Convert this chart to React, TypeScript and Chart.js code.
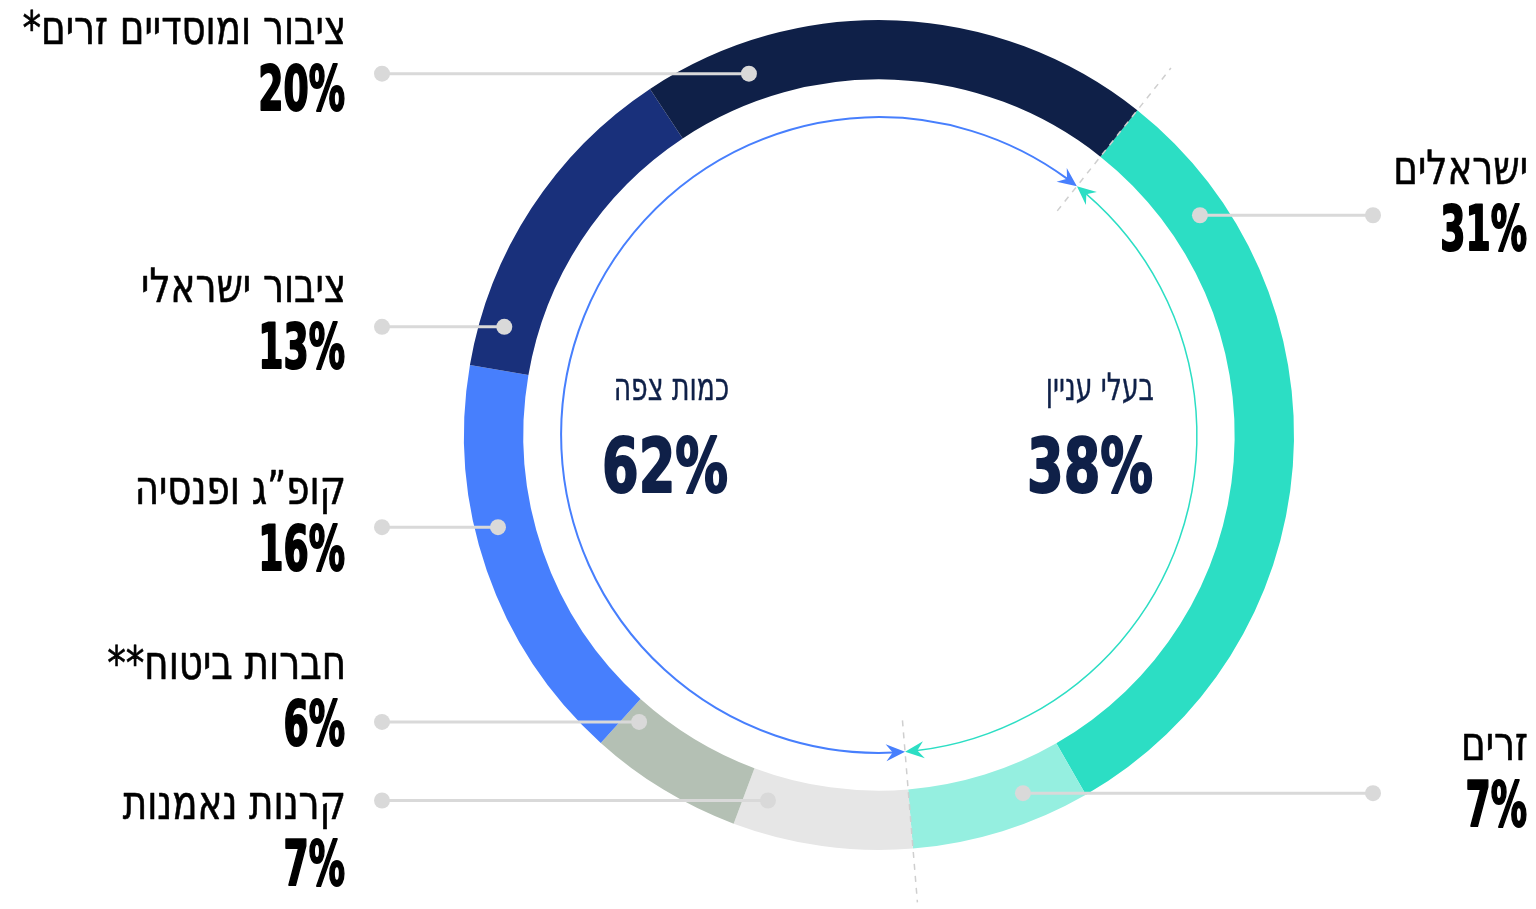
import React, { useEffect, useRef } from "react";
import { Chart, registerables } from "chart.js";

Chart.register(...registerables);

// ---- data ----
const categories = [
  "ישראלים",
  "זרים",
  "קרנות נאמנות",
  "חברות ביטוח**",
  "קופ”ג ופנסיה",
  "ציבור ישראלי",
  "ציבור ומוסדיים זרים*",
];
const shares = [31, 7, 7, 6, 16, 13, 20];
const percentLabels = ["31%", "7%", "7%", "6%", "16%", "13%", "20%"];
const groupNames = ["בעלי עניין", "כמות צפה"];
const groupLabels = ["38%", "62%"];
const groupSizes = [2, 5];

// ---- styles / layout ----
const colors = ["#2cdec4", "#95efe0", "#e6e6e6", "#b4c0b4", "#477ffd", "#19307b", "#0f2048"];
const groupColors = ["#2cdec4", "#477ffd"];
const NAVY = "#0f2048";
const LEADER = "#d9d9d9";
const FONT = "'DejaVu Sans Condensed', 'DejaVu Sans', sans-serif";

// dot: angle in degrees clockwise from 12 o'clock, radius in px from centre; text baselines
const labelLayout = [
  { angle: 55.6, radius: 389, side: "right", nameY: 184, pctY: 250 },
  { angle: 158.1, radius: 386, side: "right", nameY: 760, pctY: 826 },
  { angle: -163.1, radius: 382, side: "left", nameY: 819, pctY: 885 },
  { angle: -140.1, radius: 374, side: "left", nameY: 679, pctY: 745 },
  { angle: -103.6, radius: 392, side: "left", nameY: 504, pctY: 570 },
  { angle: -73.9, radius: 390, side: "left", nameY: 302, pctY: 368 },
  { angle: -19.8, radius: 384, side: "left", nameY: 44, pctY: 110 },
];
const sideLayout: Record<string, { textX: number; lineX: number }> = {
  left: { textX: 346, lineX: 382 },
  right: { textX: 1528, lineX: 1373 },
};
const groupLayout = [
  { x: 1154, nameY: 400, pctY: 492 },
  { x: 729, nameY: 400, pctY: 492 },
];

function drawText(
  ctx: CanvasRenderingContext2D,
  text: string,
  x: number,
  y: number,
  font: string,
  color: string,
  sx: number,
  dir: CanvasDirection,
  strokeW = 0
) {
  ctx.save();
  ctx.translate(x, y);
  ctx.scale(sx, 1);
  ctx.font = font;
  ctx.fillStyle = color;
  ctx.textAlign = "right";
  ctx.textBaseline = "alphabetic";
  ctx.direction = dir;
  ctx.fillText(text, 0, 0);
  if (strokeW > 0) {
    ctx.strokeStyle = color;
    ctx.lineWidth = strokeW;
    ctx.lineJoin = "round";
    ctx.strokeText(text, 0, 0);
  }
  ctx.restore();
}

function drawArrowHead(
  ctx: CanvasRenderingContext2D,
  tipX: number,
  tipY: number,
  fromX: number,
  fromY: number,
  color: string
) {
  const L = 19;
  const W = 8.5;
  let dx = tipX - fromX;
  let dy = tipY - fromY;
  const len = Math.hypot(dx, dy) || 1;
  dx /= len;
  dy /= len;
  const nx = -dy;
  const ny = dx;
  ctx.save();
  ctx.fillStyle = color;
  ctx.beginPath();
  ctx.moveTo(tipX, tipY);
  ctx.lineTo(tipX - L * dx + W * nx, tipY - L * dy + W * ny);
  ctx.lineTo(tipX - L * 0.65 * dx, tipY - L * 0.65 * dy);
  ctx.lineTo(tipX - L * dx - W * nx, tipY - L * dy - W * ny);
  ctx.closePath();
  ctx.fill();
  ctx.restore();
}

const overlayPlugin = {
  id: "overlay",
  afterDatasetsDraw(chart: any) {
    const ctx: CanvasRenderingContext2D = chart.ctx;
    const meta = chart.getDatasetMeta(0);
    const arcs = meta.data;
    if (!arcs.length) return;
    const cx = arcs[0].x;
    const cy = arcs[0].y;
    const outer = arcs[0].outerRadius;

    // group spans
    const spans: { start: number; end: number }[] = [];
    let idx = 0;
    groupSizes.forEach((n) => {
      spans.push({ start: arcs[idx].startAngle, end: arcs[idx + n - 1].endAngle });
      idx += n;
    });

    // dashed separators at group boundaries
    ctx.save();
    ctx.strokeStyle = "#cfcfcf";
    ctx.lineWidth = 1.5;
    ctx.setLineDash([6, 6]);
    spans.forEach((s) => {
      const a = s.start;
      ctx.beginPath();
      ctx.moveTo(cx + Math.cos(a) * outer * 0.69, cy + Math.sin(a) * outer * 0.69);
      ctx.lineTo(cx + Math.cos(a) * outer * 1.13, cy + Math.sin(a) * outer * 1.13);
      ctx.stroke();
    });
    ctx.restore();

    // inner arcs with arrow heads
    const r = outer * 0.766;
    const back = 12 / r;
    const headBack = 19 / r;
    spans.forEach((s, gi) => {
      const color = groupColors[gi];
      ctx.save();
      ctx.strokeStyle = color;
      ctx.lineWidth = gi === 0 ? 1.5 : 2;
      ctx.beginPath();
      ctx.arc(cx, cy, r, s.start + back, s.end - back);
      ctx.stroke();
      ctx.restore();
      drawArrowHead(
        ctx,
        cx + Math.cos(s.start) * r,
        cy + Math.sin(s.start) * r,
        cx + Math.cos(s.start + headBack) * r,
        cy + Math.sin(s.start + headBack) * r,
        color
      );
      drawArrowHead(
        ctx,
        cx + Math.cos(s.end) * r,
        cy + Math.sin(s.end) * r,
        cx + Math.cos(s.end - headBack) * r,
        cy + Math.sin(s.end - headBack) * r,
        color
      );
    });

    // leader lines, dots and category labels
    labelLayout.forEach((lay, i) => {
      const a = ((lay.angle - 90) * Math.PI) / 180;
      const px = cx + Math.cos(a) * lay.radius;
      const py = cy + Math.sin(a) * lay.radius;
      const side = sideLayout[lay.side];
      ctx.save();
      ctx.strokeStyle = LEADER;
      ctx.fillStyle = LEADER;
      ctx.lineWidth = 3;
      ctx.beginPath();
      ctx.moveTo(px, py);
      ctx.lineTo(side.lineX, py);
      ctx.stroke();
      ctx.beginPath();
      ctx.arc(px, py, 8, 0, Math.PI * 2);
      ctx.fill();
      ctx.beginPath();
      ctx.arc(side.lineX, py, 8, 0, Math.PI * 2);
      ctx.fill();
      ctx.restore();

      drawText(ctx, categories[i], side.textX, lay.nameY, `normal 47px ${FONT}`, "#000", 0.88, "rtl", 0.6);
      drawText(ctx, percentLabels[i], side.textX - 1, lay.pctY, `bold 63px ${FONT}`, "#000", 0.64, "ltr", 2);
    });

    // group labels in the centre
    groupLayout.forEach((g, gi) => {
      drawText(ctx, groupNames[gi], g.x, g.nameY, `normal 38px ${FONT}`, NAVY, 0.78, "rtl", 0.4);
      drawText(ctx, groupLabels[gi], g.x - 1, g.pctY, `bold 75px ${FONT}`, NAVY, 0.78, "ltr", 2);
    });
  },
};

export default function App() {
  const canvasRef = useRef<HTMLCanvasElement | null>(null);

  useEffect(() => {
    const canvas = canvasRef.current;
    if (!canvas) return;
    const chart = new Chart(canvas, {
      type: "doughnut",
      data: {
        labels: categories,
        datasets: [
          {
            data: shares,
            backgroundColor: colors,
            borderWidth: 0,
            hoverOffset: 0,
          },
        ],
      },
      options: {
        responsive: false,
        animation: false,
        rotation: 38.5,
        cutout: "85.7%",
        layout: { padding: { left: 464, right: 242, top: 20, bottom: 59 } },
        plugins: {
          legend: { display: false },
          tooltip: { enabled: false },
        },
        events: [],
      },
      plugins: [overlayPlugin],
    });
    return () => chart.destroy();
  }, []);

  return (
    <div style={{ position: "fixed", left: 0, top: 0, width: 1536, height: 909, background: "#fff" }}>
      <canvas ref={canvasRef} width={1536} height={909} style={{ width: 1536, height: 909, display: "block" }} />
    </div>
  );
}
